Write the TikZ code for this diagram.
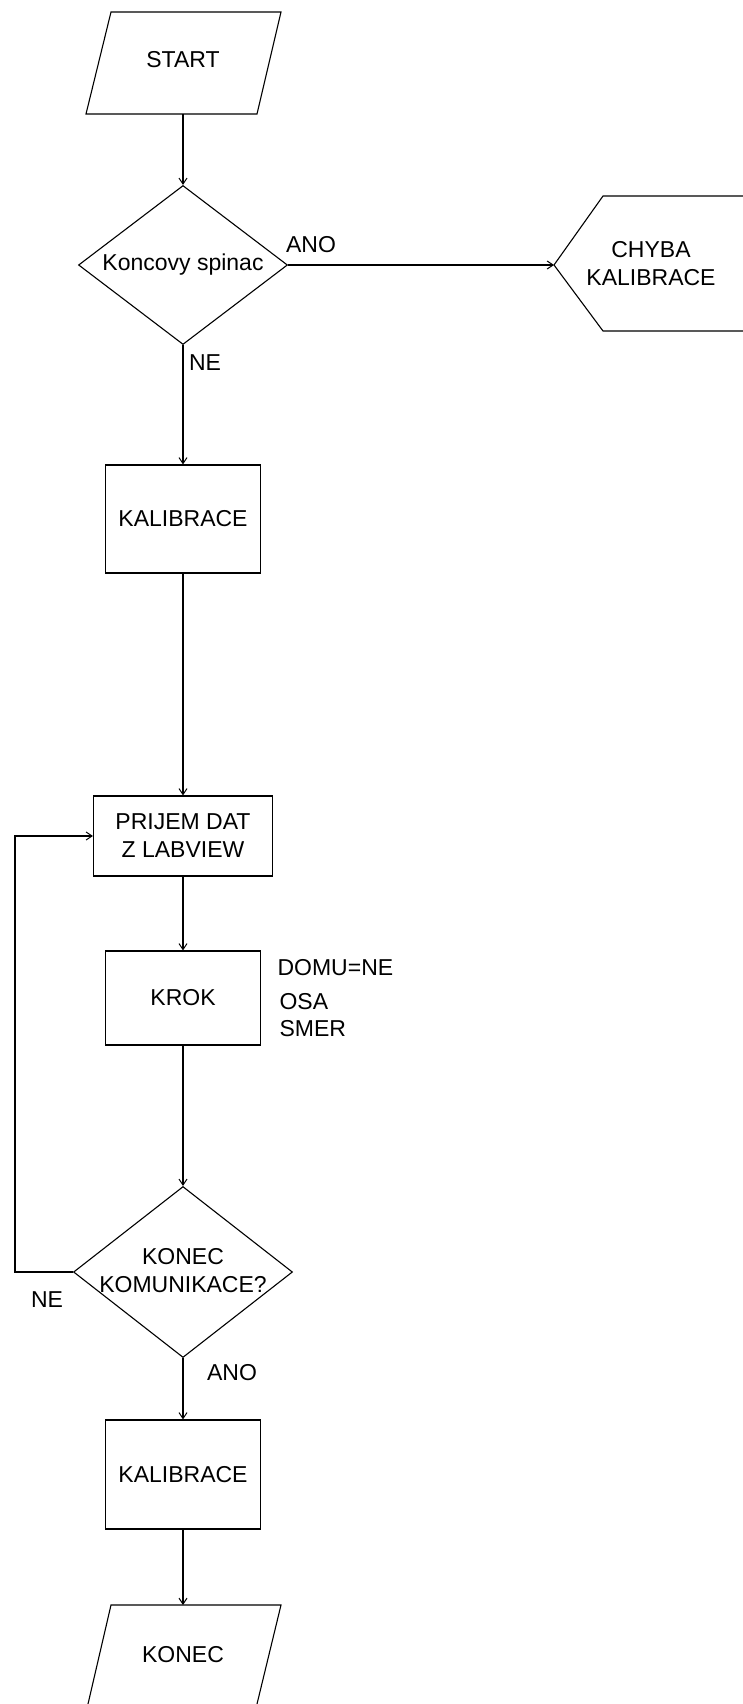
\documentclass[tikz,border=0pt]{standalone}
\usepackage{fontspec}
\setmainfont{Liberation Sans}
\usetikzlibrary{shapes.geometric,arrows.meta}
\begin{document}
\begin{tikzpicture}[x=1pt,y=-1pt,
  line width=1.1pt,
  font=\fontsize{23}{28}\selectfont,
  flow/.style={-{Straight Barb[length=6pt,width=8pt,line width=1pt]}},
  box/.style={draw,rectangle,inner sep=0pt,align=center},
  dec/.style={draw,diamond,inner sep=0pt},
  txt/.style={inner sep=0pt,align=center},
  lbl/.style={inner sep=0pt,anchor=west}]
\useasboundingbox[fill=white] (0,0) rectangle (743,1704);
\clip (0,0) rectangle (743,1704);

% START parallelogram
\draw (111,12) -- (281,12) -- (257,114) -- (86,114) -- cycle;
\node[txt] (start) at (183,60) {START};
\coordinate (startB) at (183,114);

% decision 1
\node[dec,minimum width=209pt,minimum height=159pt] (d1) at (183,265) {};
\node[txt] (d1t) at (d1.center) {Koncovy spinac};

% CHYBA KALIBRACE display shape
\draw (760,196) -- (603,196) -- (554,265) -- (603,331) -- (760,331);
\coordinate (hexL) at (554,265);
\node[txt] (chyba) at (651,264) {CHYBA\\KALIBRACE};

% boxes
\node[box,minimum width=155pt,minimum height=108pt] (kal1) at (183,519) {KALIBRACE};
\node[box,minimum width=179pt,minimum height=80pt] (prijem) at (183,836) {PRIJEM DAT\\Z LABVIEW};
\node[box,minimum width=155pt,minimum height=94pt] (krok) at (183,998) {KROK};

% decision 2
\node[dec,minimum width=219pt,minimum height=171pt] (d2) at (183,1272) {};
\node[txt] (d2t) at (183,1271) {KONEC\\KOMUNIKACE?};

\node[box,minimum width=155pt,minimum height=109pt] (kal2) at (183,1474.5) {KALIBRACE};

% KONEC parallelogram
\draw (88,1704) -- (111,1605) -- (281,1605) -- (257,1704);
\node[txt] (konec) at (183,1655) {KONEC};
\coordinate (konecT) at (183,1605);

% side notes
\node[lbl] (domu) at (277,968) {DOMU=NE};
\node[lbl] (osa) at (279,1002) {OSA};
\node[lbl] (smer) at (279,1029) {SMER};

% labels
\node[txt] (ano1) at (311,245) {ANO};
\node[txt] (ne1) at (205,363) {NE};
\node[txt] (ne2) at (47,1300) {NE};
\node[txt] (ano2) at (232,1373) {ANO};

% connectors
\draw[flow] (startB) -- (d1.north);
\draw[flow] (d1.east) -- (hexL);
\draw[flow] (d1.south) -- (kal1.north);
\draw[flow] (kal1.south) -- (prijem.north);
\draw[flow] (prijem.south) -- (krok.north);
\draw[flow] (krok.south) -- (d2.north);
\coordinate (loopC) at (15,1272);
\draw[flow] (d2.west) -- (loopC) |- (prijem.west);
\draw[flow] (d2.south) -- (kal2.north);
\draw[flow] (kal2.south) -- (konecT);
\end{tikzpicture}
\end{document}
